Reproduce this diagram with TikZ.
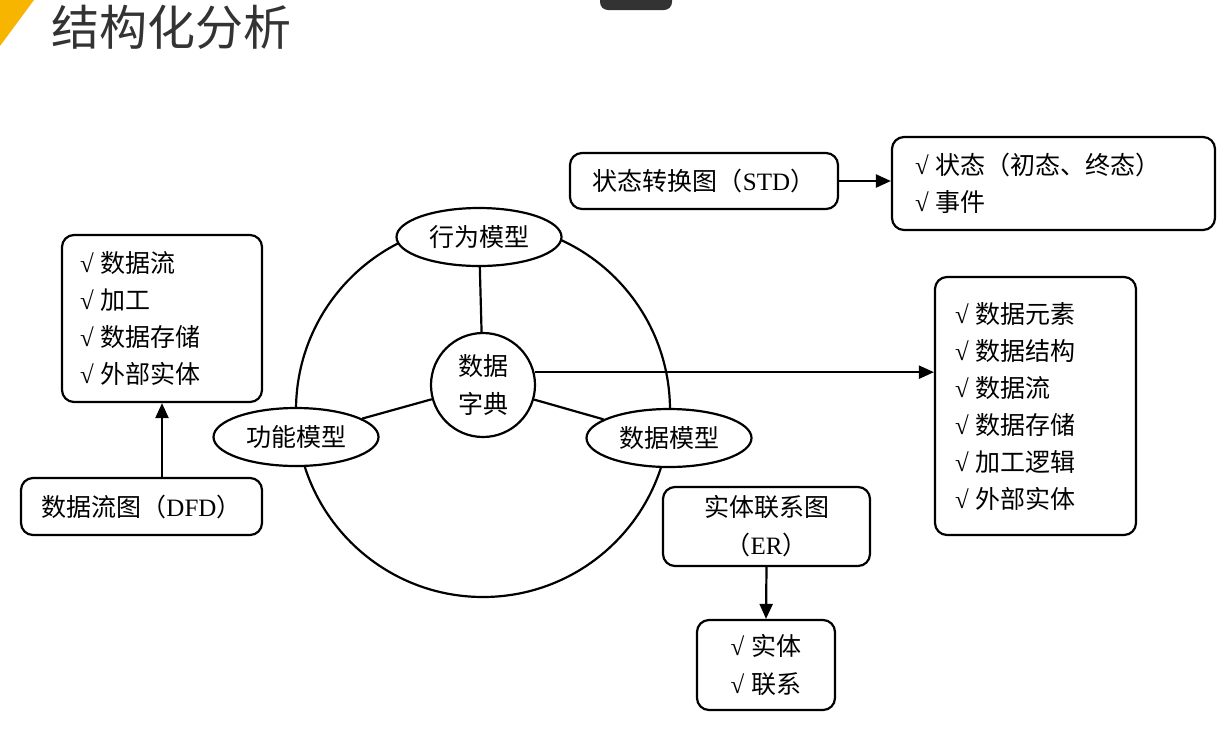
\documentclass[tikz,border=0pt]{standalone}
\usepackage{fontspec}
\setmainfont{Noto Sans CJK SC}
\newfontfamily\lat{Liberation Serif}
\newcommand{\ck}{{\lat √}\hspace{7pt}}
\usetikzlibrary{arrows.meta,shapes.geometric}
\definecolor{titlegray}{HTML}{333333}
\definecolor{slideyellow}{HTML}{F7B500}
\tikzset{
  every node/.style={font=\fontsize{25}{37}\selectfont},
  box/.style={draw, line width=2.2pt, rounded corners=12pt, fill=white, inner ysep=0pt},
  listbox/.style={box, align=left},
  oval/.style={ellipse, draw, line width=2.2pt, fill=white, minimum width=165pt, minimum height=58pt, inner sep=0pt},
  conn/.style={line width=2.2pt},
  arr/.style={line width=2.2pt, -{Triangle[length=15pt,width=13pt]}},
}
\begin{document}
\begin{tikzpicture}[x=1pt,y=-1pt]
\useasboundingbox (0,0) rectangle (1228,732);
\fill[white] (0,0) rectangle (1228,732);
% slide decorations
\fill[slideyellow] (0,0) -- (34,0) -- (0,46) -- cycle;
\fill[titlegray, rounded corners=8pt] (600,-12) rectangle (672,10);
\node[anchor=west, text=titlegray, font=\fontsize{48}{50}\selectfont, inner sep=0pt] (title) at (51,27) {结构化分析};

% big circle
\node[circle, draw, line width=2.2pt, minimum size=374pt, inner sep=0pt] (big) at (483,410) {};
% ellipses
\node[oval] (xw) at (479,237) {行为模型};
\node[oval] (gn) at (296,437) {功能模型};
\node[oval] (sj) at (669,438) {数据模型};
\node[circle, draw, line width=2.2pt, fill=white, minimum size=104pt, inner sep=0pt, align=center, font=\fontsize{25}{38}\selectfont] (dd) at (483,385) {数据\\字典};
\draw[conn] (dd) -- (xw);
\draw[conn] (dd) -- (gn);
\draw[conn] (dd) -- (sj);

% left side
\node[listbox, minimum width=200pt, minimum height=167pt, text width=164pt, inner xsep=18pt] (lb) at (162,318.5)
  {\ck 数据流\\\ck 加工\\\ck 数据存储\\\ck 外部实体};
\node[box, minimum width=241pt, minimum height=57pt] (dfd) at (141.5,506.5) {数据流图（{\lat DFD}）};
\draw[arr] (lb.south |- dfd.north) -- (lb.south);

% top right
\node[box, minimum width=268pt, minimum height=56pt] (std) at (704,181) {状态转换图（{\lat STD}）};
\node[listbox, minimum width=323pt, minimum height=93pt, text width=277pt, inner xsep=23pt] (stdd) at (1053.5,183.5)
  {\ck 状态（初态、终态）\\\ck 事件};
\draw[arr] (std.east) -- (std.east -| stdd.west);

% right
\node[listbox, minimum width=201pt, minimum height=258pt, text width=161pt, inner xsep=20pt] (rb) at (1035.5,406)
  {\ck 数据元素\\\ck 数据结构\\\ck 数据流\\\ck 数据存储\\\ck 加工逻辑\\\ck 外部实体};
\draw[arr] (dd.14.5) -- (dd.14.5 -| rb.west);

% ER
\node[box, minimum width=207pt, minimum height=79pt, align=center, font=\fontsize{25}{38}\selectfont] (er) at (766.5,526.5) {实体联系图\\（{\lat ER}）};
\node[box, minimum width=138pt, minimum height=90pt, align=left, font=\fontsize{25}{38}\selectfont] (erd) at (766,665) {\ck 实体\\\ck 联系};
\draw[arr] (er.south) -- (erd.north);
\end{tikzpicture}
\end{document}
